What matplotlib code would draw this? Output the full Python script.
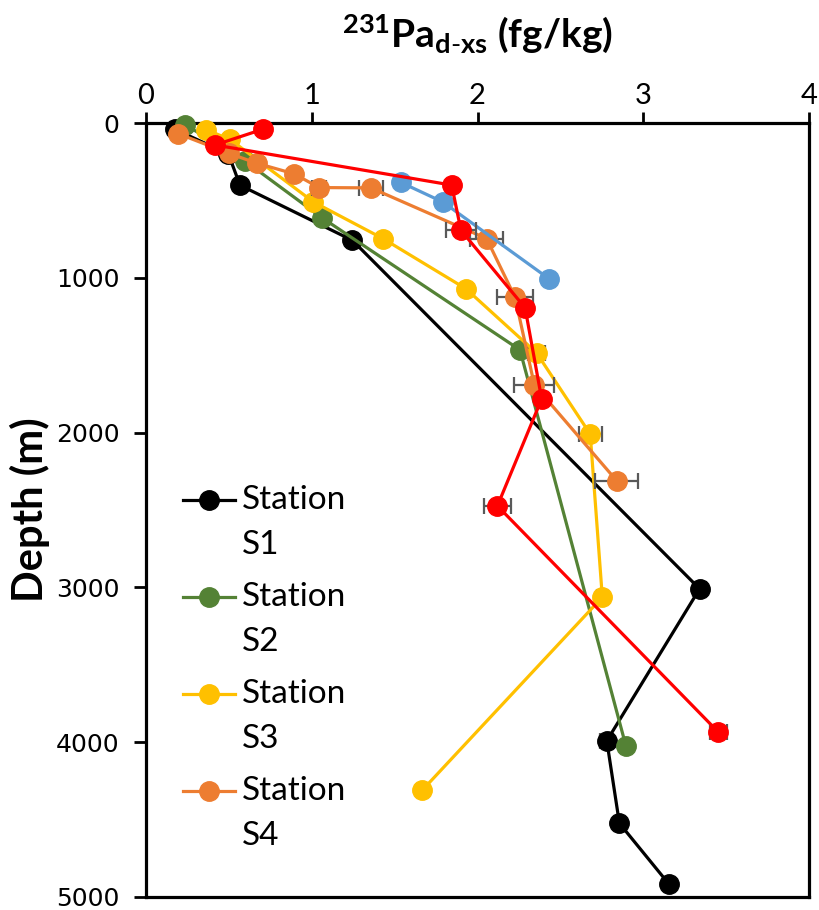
import matplotlib.pyplot as plt
import numpy as np

# 231Pa(d-xs) depth profiles per station (x in fg/kg, depth in m)
s1_pa = [0.175, 0.497, 0.567, 1.245, 3.34, 2.78, 2.856, 3.155]
s1_depth = [41, 200, 402, 758, 3010, 3992, 4525, 4918]
s1_err = [0, 0, 0, 0, 0.04, 0.04, 0, 0]

s2_pa = [0.235, 0.597, 1.06, 2.256, 2.896]
s2_depth = [10, 245, 611, 1466, 4028]
s2_err = [0, 0, 0, 0, 0]

s3_pa = [0.362, 0.507, 1.01, 1.43, 1.93, 2.357, 2.68, 2.753, 1.665]
s3_depth = [43, 106, 510, 747, 1071, 1487, 2010, 3064, 4313]
s3_err = [0, 0, 0, 0, 0, 0.05, 0.07, 0.03, 0]

s4_pa = [0.195, 0.50, 0.672, 0.893, 1.044, 1.357, 2.055, 2.226, 2.343, 2.84]
s4_depth = [69, 196, 261, 328, 417, 419, 747, 1125, 1693, 2312]
s4_err = [0, 0, 0, 0, 0.04, 0.075, 0.1, 0.11, 0.12, 0.13]

s5_pa = [1.538, 1.79, 2.431]
s5_depth = [384, 510, 1006]
s5_err = [0, 0, 0]

s6_pa = [0.708, 0.416, 1.844, 1.90, 2.287, 2.387, 2.12, 3.453]
s6_depth = [39, 142, 401, 693, 1194, 1783, 2474, 3936]
s6_err = [0, 0, 0, 0.09, 0, 0, 0.08, 0.05]

stations = [
    (s1_pa, s1_depth, s1_err, 'black', 'S1'),
    (s2_pa, s2_depth, s2_err, '#548235', 'S2'),
    (s3_pa, s3_depth, s3_err, '#FFC000', 'S3'),
    (s4_pa, s4_depth, s4_err, '#ED7D31', 'S4'),
    (s5_pa, s5_depth, s5_err, '#5B9BD5', None),
    (s6_pa, s6_depth, s6_err, '#FF0000', None),
]

plt.rcParams['font.family'] = ['Lato', 'DejaVu Sans']
plt.rcParams['mathtext.fontset'] = 'custom'
plt.rcParams['mathtext.rm'] = 'Lato'
plt.rcParams['mathtext.bf'] = 'Lato:bold'

fig = plt.figure(figsize=(8.19, 9.10), dpi=100)
ax = fig.add_axes([0.1783, 0.0145, 0.8095, 0.8503])

legend_items = []
for i, (pa, depth, err, color, label) in enumerate(stations):
    pa = np.array(pa)
    depth = np.array(depth)
    err = np.array(err)
    z = 2 + i
    has = err > 0
    if has.any():
        ax.errorbar(pa[has], depth[has], xerr=err[has], fmt='none',
                    ecolor='#595959', elinewidth=1.6, capsize=6, capthick=1.6,
                    zorder=z)
    ax.plot(pa, depth, '-o', color=color, lw=2.3, ms=14,
            mec=color, zorder=z + 0.5, clip_on=False)
    if label:
        legend_items.append((color, label))

ax.set_xlim(0, 4)
ax.set_ylim(5000, 0)
ax.xaxis.tick_top()
ax.xaxis.set_label_position('top')
ax.set_xticks([0, 1, 2, 3, 4])
ax.set_yticks([0, 1000, 2000, 3000, 4000, 5000])
ax.tick_params(axis='x', labelsize=21, length=8, width=2, pad=2)
ax.tick_params(axis='y', labelsize=18, length=9, width=2, pad=10)
for lab in ax.get_yticklabels():
    lab.set_family('DejaVu Sans')
for sp in ax.spines.values():
    sp.set_linewidth(2.3)

ax.set_xlabel(r'$\mathbf{^{231}Pa_{d\text{-}xs}}$ (fg/kg)', fontsize=28,
              fontweight='bold', labelpad=26)
ax.set_ylabel('Depth (m)', fontsize=30, fontweight='bold', labelpad=4)

# legend drawn by hand so the marker sits on the first text line
y0 = 0.5123
step = 0.1251
for k, (color, label) in enumerate(legend_items):
    y = y0 - k * step
    ax.plot([0.0558, 0.1342], [y, y], color=color, lw=2.3,
            transform=ax.transAxes, zorder=10)
    ax.plot([0.095], [y], 'o', color=color, ms=14,
            transform=ax.transAxes, zorder=10)
    ax.text(0.1448, y, 'Station', fontsize=24, va='center', ha='left',
            transform=ax.transAxes)
    ax.text(0.1448, y - 0.0582, label, fontsize=24, va='center', ha='left',
            transform=ax.transAxes)

plt.savefig('out.png', dpi=100)
